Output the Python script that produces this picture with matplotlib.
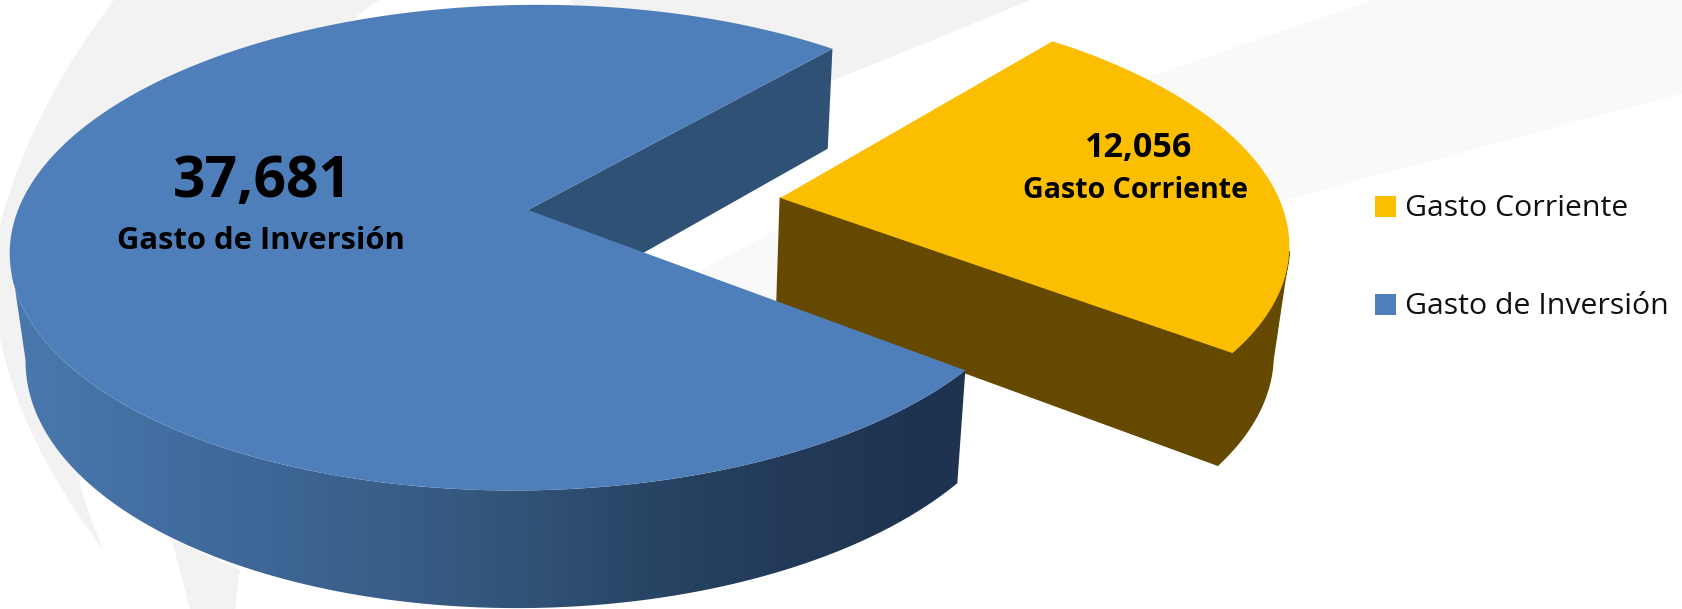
import numpy as np
import matplotlib
matplotlib.use("Agg")
import matplotlib.pyplot as plt
from matplotlib.colors import LinearSegmentedColormap
from matplotlib.patches import PathPatch, Polygon, Rectangle
from matplotlib.path import Path

categories = ["Gasto Corriente", "Gasto de Inversión"]
values = [12056, 37681]
value_labels = ["12,056", "37,681"]

# look of the tilted pie, in picture pixels
start_angle = 49.5
explode = 0.5
orange_radius = 0.985
apex_x, apex_y = 528, 210
radius_x, radius_y = 510, 237
tilt = 0.155
shear = 12
gold, gold_dark = "#fcbe00", "#654900"
blue, blue_inner = "#4f7fba", "#2f5176"
side_stops = ["#4a78ae", "#3f6899", "#35587f", "#26405f", "#1e3350", "#1e3350"]


def project(x, y):
    w = 1 + tilt * y
    return apex_x + (radius_x * x + shear * y) / w, apex_y - radius_y * y / w


def drop(px, py):
    # same point on the underside of the pie
    return 644 + 0.975 * (px - 644), 1.04 * py + 98


def ring(t0, t1, dx=0.0, dy=0.0, r=1.0):
    t = np.radians(np.linspace(t0, t1, 240))
    return project(dx + r * np.cos(t), dy + r * np.sin(t))


def wall(px, py):
    bx, by = drop(np.asarray(px), np.asarray(py))
    return np.r_[px, bx[::-1]], np.r_[py, by[::-1]]


def swoosh(start, *curves):
    # watermark shape out of quadratic curves, each given as (control, end)
    verts, codes = [start], [Path.MOVETO]
    for ctrl, end in curves:
        verts += [ctrl, end]
        codes += [Path.CURVE3, Path.CURVE3]
    verts.append(start)
    codes.append(Path.CLOSEPOLY)
    return Path(verts, codes)


fig = plt.figure(figsize=(16.83, 6.09), dpi=100, facecolor="white")
ax = fig.add_axes([0, 0, 1, 1])
ax.set_xlim(0, 1683)
ax.set_ylim(609, 0)
ax.axis("off")

# faint watermark behind the chart
ax.add_patch(PathPatch(swoosh((114, 0), ((247, 0), (379, 0)), ((250, 90), (200, 200)),
                              ((80, 340), (80, 485)), ((90, 520), (104, 551)),
                              ((20, 440), (0, 338)), ((-5, 280), (0, 225)), ((30, 110), (114, 0))),
                       color="#f2f2f2", lw=0))
ax.add_patch(Polygon([(172, 540), (240, 570), (235, 609), (190, 609)], color="#f2f2f2", lw=0))
ax.add_patch(Polygon([(570, 0), (1031, 0), (834, 80), (700, 160)], color="#f2f2f2", lw=0))
ax.add_patch(Polygon([(1374, 0), (1683, 0), (1683, 93), (1284, 200), (800, 345), (700, 300), (700, 270),
                      (777, 230), (1149, 77)], color="#f9f9f9", lw=0))

sweep = 360 * values[0] / sum(values)
end_angle = start_angle - sweep
mid = np.radians((start_angle + end_angle) / 2)
off_x, off_y = explode * np.cos(mid), explode * np.sin(mid)

# orange slice, pulled out of the pie
ox, oy = ring(start_angle, end_angle, off_x, off_y, orange_radius)
cx, cy = project(off_x, off_y)
sx, sy = ring(-13, end_angle, off_x, off_y, orange_radius)
ax.fill(*wall(sx, sy), color=gold_dark, lw=1, ec=gold_dark)
ax.fill(*wall(np.r_[cx, sx[-1]], np.r_[cy, sy[-1]]), color=gold_dark, lw=1, ec=gold_dark)
ax.fill(np.r_[cx, ox], np.r_[cy, oy], color=gold, lw=0)

# blue slice: inner wall, curved side with its gradient, then the top
bx, by = ring(start_angle, 360 + end_angle)
cx, cy = project(0, 0)
ax.fill(*wall(np.r_[cx, bx[0]], np.r_[cy, by[0]]), color=blue_inner, lw=0)

sx, sy = ring(190, 360 + end_angle)
side = Polygon(np.column_stack(wall(sx, sy)), closed=True, transform=ax.transData, fc="none", lw=0)
ax.add_patch(side)
cmap = LinearSegmentedColormap.from_list("side", side_stops)
img = ax.imshow(np.linspace(0, 1, 512).reshape(1, -1), cmap=cmap, aspect="auto",
                extent=[12, 1150, 609, 0], zorder=1.5)
img.set_clip_path(side)
ax.set_xlim(0, 1683)
ax.set_ylim(609, 0)
ax.fill(np.r_[cx, bx], np.r_[cy, by], color=blue, lw=0, zorder=2)

ax.text(262, 182, value_labels[1], family="Open Sans", weight="bold", fontsize=41,
        ha="center", va="center", zorder=3)
ax.text(261, 241, categories[1], family="Open Sans", weight="bold", fontsize=22.3,
        ha="center", va="center", zorder=3)
ax.text(1139, 148, value_labels[0], family="Open Sans", weight="bold", fontsize=24.5,
        ha="center", va="center", zorder=3)
ax.text(1136, 190, categories[0], family="Open Sans", weight="bold", fontsize=20.6,
        ha="center", va="center", zorder=3)

# legend
for name, colour, y in zip(categories, [gold, blue], [207, 305]):
    ax.add_patch(Rectangle((1375, y - 11), 21, 21, color=colour, lw=0, zorder=3))
    ax.text(1405, y + 2, name, family="Open Sans", fontsize=21.8, color="#111111", va="center", zorder=3)

fig.savefig("out.png", dpi=100)
